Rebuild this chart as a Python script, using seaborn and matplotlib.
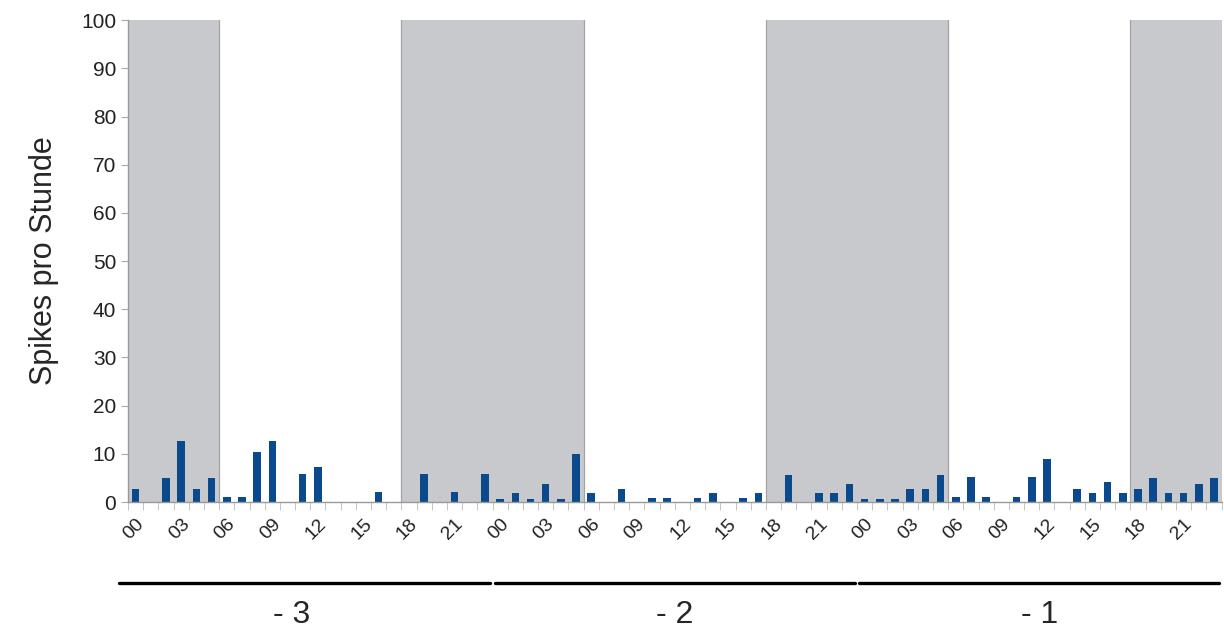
import numpy as np
import pandas as pd
import matplotlib
matplotlib.use("Agg")
import matplotlib.pyplot as plt
import seaborn as sns

# Spikes per hour, three days before (-3, -2, -1), hours 00..23
day_minus3 = [2.7, 0, 5, 12.7, 2.7, 5, 1, 1, 10.3, 12.7, 0, 5.8,
              7.3, 0, 0, 0, 2, 0, 0, 5.8, 0, 2, 0, 5.8]
day_minus2 = [0.7, 1.9, 0.7, 3.8, 0.7, 10, 1.9, 0, 2.6, 0, 0.9, 0.9,
              0, 0.9, 1.9, 0, 0.9, 1.9, 0, 5.7, 0, 1.9, 1.9, 3.8]
day_minus1 = [0.7, 0.7, 0.7, 2.6, 2.6, 5.7, 1, 5.1, 1, 0, 1, 5.1,
              8.9, 0, 2.6, 1.9, 4.1, 1.9, 2.6, 5, 1.9, 1.9, 3.7, 5]
day_labels = ["- 3", "- 2", "- 1"]
hour_labels = ["00", "03", "06", "09", "12", "15", "18", "21"]
night_end, night_start = 6, 18  # dark phase: 18:00 - 06:00

days = [day_minus3, day_minus2, day_minus1]
df = pd.DataFrame({
    "slot": np.arange(24 * len(days)),
    "spikes": np.concatenate(days),
})

sns.set_style("white")
plt.rcParams["font.family"] = ["Liberation Sans", "DejaVu Sans"]

fig = plt.figure(figsize=(12.24, 6.31), dpi=100)
ax = fig.add_axes([0.1046, 0.2044, 0.8934, 0.7636])

# night shading
n_slots = len(df)
for d in range(len(days) + 1):
    start = d * 24 - 24 + night_start - 0.5
    end = d * 24 + night_end - 0.5
    start, end = max(start, -0.5), min(end, n_slots - 0.5)
    if end > start:
        ax.axvspan(start, end, facecolor="#c8c9cc", edgecolor="none", zorder=0)
        for edge in (start, end):
            if -0.5 < edge < n_slots - 0.5:
                ax.axvline(edge, color="#a3a3a3", lw=0.9, zorder=1)

sns.barplot(data=df, x="slot", y="spikes", color="#0a4a8c", width=0.5,
            saturation=1, linewidth=0, edgecolor="none", ax=ax, zorder=2)

ax.set_xlim(-0.5, n_slots - 0.5)
ax.set_ylim(0, 100)
ax.set_yticks(range(0, 101, 10))
ax.set_ylabel("Spikes pro Stunde", fontsize=22, labelpad=16)
ax.set_xlabel("")

tick_pos = np.arange(0, n_slots, 3)
ax.set_xticks(tick_pos)
ax.set_xticklabels(hour_labels * len(days), rotation=45, ha="right",
                   rotation_mode="anchor", fontsize=14, color="#222222")
ax.set_xticks(np.arange(-0.5, n_slots, 1), minor=True)
ax.tick_params(axis="x", which="major", length=0, pad=10)
ax.tick_params(axis="x", which="minor", length=6, color="#bbbbbb",
               direction="out", bottom=True)
ax.tick_params(axis="y", length=5, color="#aaaaaa", direction="out",
               left=True, labelsize=15, labelcolor="#222222")

for side in ["top", "right"]:
    ax.spines[side].set_visible(False)
for side in ["left", "bottom"]:
    ax.spines[side].set_color("#999999")
    ax.spines[side].set_linewidth(1)

# day brackets below the axis
trans = matplotlib.transforms.blended_transform_factory(ax.transData, fig.transFigure)
label_x = [10.3, 35.5, 59.5]
for i, lab in enumerate(day_labels):
    x0 = i * 24 - 0.5 + (0.15 if i > 0 else -0.6)
    x1 = (i + 1) * 24 - 0.5 - 0.15
    ax.plot([x0, x1], [0.076, 0.076], color="black", lw=2.4,
            transform=trans, clip_on=False)
    ax.text(label_x[i], 0.025, lab, transform=trans, ha="center",
            va="center", fontsize=23)

fig.savefig("out.png", dpi=100)
